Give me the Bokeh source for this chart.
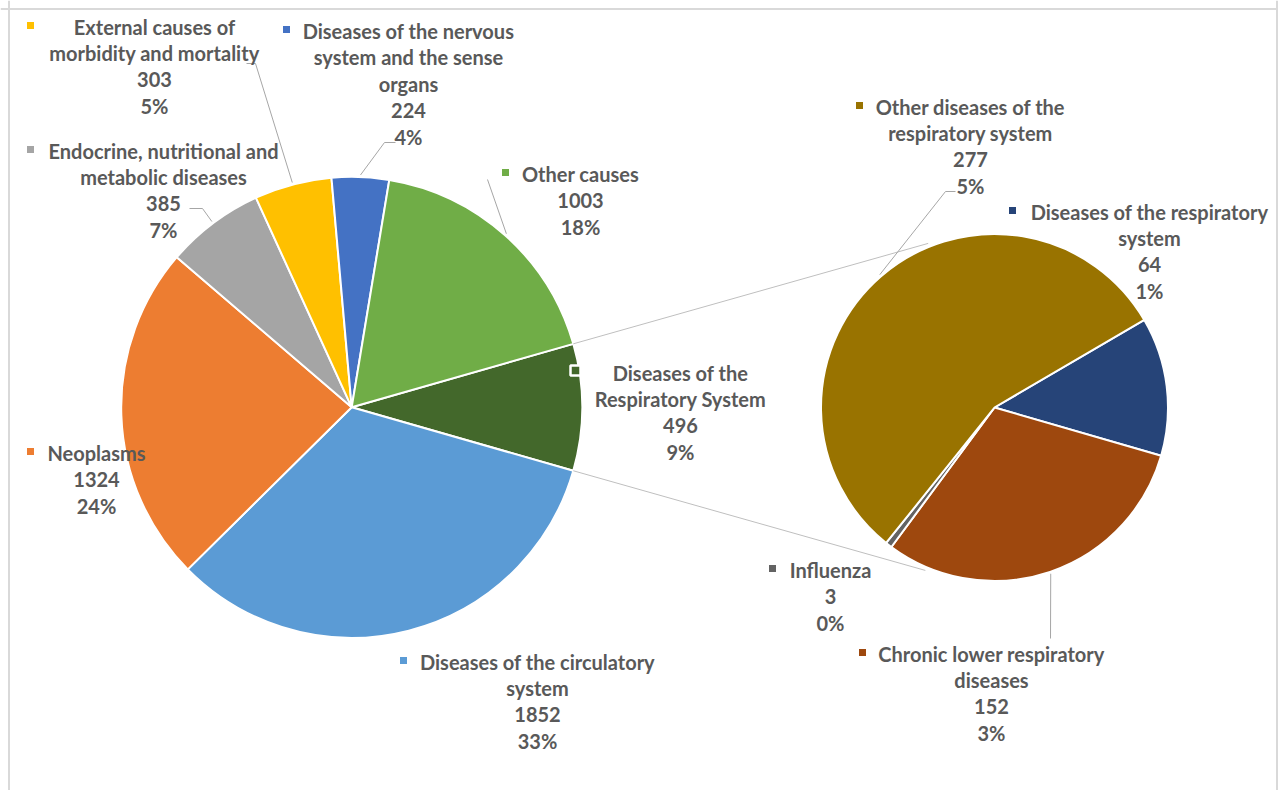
import textwrap
import numpy as np
from bokeh.plotting import figure
from bokeh.models import Range1d, Span
from bokeh.core.properties import value
from bokeh.embed import file_html
from bokeh.resources import INLINE

# ---------------- data ----------------
main_categories = [
    "Diseases of the Respiratory System",
    "Diseases of the circulatory system",
    "Neoplasms",
    "Endocrine, nutritional and metabolic diseases",
    "External causes of morbidity and mortality",
    "Diseases of the nervous system and the sense organs",
    "Other causes",
]
main_values = [496, 1852, 1324, 385, 303, 224, 1003]

sub_categories = [
    "Diseases of the respiratory system",
    "Chronic lower respiratory diseases",
    "Influenza",
    "Other diseases of the respiratory system",
]
sub_values = [64, 152, 3, 277]

# ---------------- styles / layout ----------------
main_colors = ["#43682B", "#5B9BD5", "#ED7D31", "#A5A5A5", "#FFC000", "#4472C4", "#70AD47"]
sub_colors = ["#264478", "#9E480E", "#636363", "#997300"]

W, H = 1278, 790
def X(px):
    return px
def Y(py):
    return H - py

MAIN_C, MAIN_R = (351.2, 406.8), 230.5
SUB_C, SUB_R = (994.0, 407.0), 173.5
SUB_START = 59.7   # clockwise-from-top start of the first slice of the second pie
LINE_STEP = 26.5
TEXT_COLOR = "#595959"
LEADER_COLOR = "#A6A6A6"
FONT = "Lato"
FONT_SIZE = "20px"

# label layout: center x, first-line y, wrap width, marker x, leader start points (page px)
label_layout = {
    "Diseases of the Respiratory System": (680, 372, 18, 575, None),
    "Diseases of the circulatory system": (537, 661, 27, 403, None),
    "Neoplasms": (96, 452, 30, 30, None),
    "Endocrine, nutritional and metabolic diseases": (163, 150, 26, 30, [(189, 208), (202, 208)]),
    "External causes of morbidity and mortality": (154, 26, 23, 30, [(246, 63), (255, 63)]),
    "Diseases of the nervous system and the sense organs": (408, 30, 23, 286, [(395, 142), (384, 142)]),
    "Other causes": (580, 173, 20, 505, [(487, 179)]),
    "Diseases of the respiratory system": (1149, 211, 27, 1012, None),
    "Chronic lower respiratory diseases": (991, 653, 25, 862, [(1050, 638)]),
    "Influenza": (830, 569, 20, 772, None),
    "Other diseases of the respiratory system": (970, 106, 21, 859, [(955, 191), (945, 191)]),
}

total = float(sum(main_values))


def pt(center, r, theta_cw):
    t = np.radians(theta_cw)
    return (center[0] + r * np.sin(t), center[1] - r * np.cos(t))


def slice_angles(values, start_cw):
    spans = np.array(values, dtype=float) / float(sum(values)) * 360.0
    starts = start_cw + np.concatenate([[0.0], np.cumsum(spans)[:-1]])
    return starts, starts + spans


p = figure(width=W, height=H, x_range=Range1d(0, W), y_range=Range1d(0, H),
           output_backend="svg", toolbar_location=None, min_border=0,
           x_axis_location=None, y_axis_location=None)
p.grid.visible = False
p.outline_line_color = None
p.background_fill_color = "white"

# frame (three visible sides)
for loc, dim in [(X(8.5), "height"), (X(1276.5), "height"), (Y(8.5), "width")]:
    p.add_layout(Span(location=loc, dimension=dim, line_color="#D9D9D9", line_width=2))

# ---------------- main pie ----------------
m_spans = np.array(main_values, dtype=float) / total * 360.0
m_start, m_end = slice_angles(main_values, 90.0 - m_spans[0] / 2.0)
p.wedge(x=[X(MAIN_C[0])] * len(main_values), y=[Y(MAIN_C[1])] * len(main_values), radius=MAIN_R,
        start_angle=list(np.radians(90.0 - m_start)), end_angle=list(np.radians(90.0 - m_end)),
        direction="clock", fill_color=main_colors, line_color="white", line_width=2)

# ---------------- second pie ----------------
s_start, s_end = slice_angles(sub_values, SUB_START)
p.wedge(x=[X(SUB_C[0])] * len(sub_values), y=[Y(SUB_C[1])] * len(sub_values), radius=SUB_R,
        start_angle=list(np.radians(90.0 - s_start)), end_angle=list(np.radians(90.0 - s_end)),
        direction="clock", fill_color=sub_colors, line_color="white", line_width=2)

# ---------------- connector lines ----------------
a_top = pt(MAIN_C, MAIN_R, m_start[0])
a_bot = pt(MAIN_C, MAIN_R, m_end[0])
b_top = pt(SUB_C, SUB_R + 3.5, 338.0)
b_bot = pt(SUB_C, SUB_R + 3.5, 203.0)
p.multi_line(xs=[[X(a_top[0]), X(b_top[0])], [X(a_bot[0]), X(b_bot[0])]],
             ys=[[Y(a_top[1]), Y(b_top[1])], [Y(a_bot[1]), Y(b_bot[1])]],
             line_color="#BFBFBF", line_width=1)

# ---------------- labels ----------------
tx, ty, tt = [], [], []
mk_x, mk_y, mk_c = [], [], []
lead_xs, lead_ys = [], []


def add_labels(cats, vals, colors, starts, ends, center, radius, special=None):
    for cat, v, col, a0, a1 in zip(cats, vals, colors, starts, ends):
        cx, y0, wrap, mx, leader = label_layout[cat]
        lines = textwrap.wrap(cat, wrap) + [str(v), "%d%%" % round(v / total * 100)]
        for i, ln in enumerate(lines):
            tx.append(X(cx))
            ty.append(Y(y0 + i * LINE_STEP))
            tt.append(ln)
        if cat != special:
            mk_x.append(X(mx))
            mk_y.append(Y(y0 - 1))
            mk_c.append(col)
        if leader:
            end = pt(center, radius + 2, (a0 + a1) / 2.0)
            pts = list(leader) + [end]
            lead_xs.append([X(q[0]) for q in pts])
            lead_ys.append([Y(q[1]) for q in pts])


add_labels(main_categories, main_values, main_colors, m_start, m_end, MAIN_C, MAIN_R,
           special=main_categories[0])
add_labels(sub_categories, sub_values, sub_colors, s_start, s_end, SUB_C, SUB_R)

p.multi_line(xs=lead_xs, ys=lead_ys, line_color=LEADER_COLOR, line_width=1)

p.scatter(x=mk_x, y=mk_y, marker="square", size=7, fill_color=mk_c, line_color=None)
# marker of the split slice sits on the slice itself, with a white frame
r_cx, r_y0, _, r_mx, _ = label_layout[main_categories[0]]
p.scatter(x=[X(r_mx)], y=[Y(r_y0 - 2)], marker="square", size=10,
          fill_color=main_colors[0], line_color="white", line_width=2.5)

p.text(x=tx, y=ty, text=tt, text_align="center", text_baseline="middle",
       text_font=value(FONT), text_font_style="bold", text_font_size=FONT_SIZE,
       text_color=TEXT_COLOR)

open("out.html", "w").write(file_html(p, INLINE))
